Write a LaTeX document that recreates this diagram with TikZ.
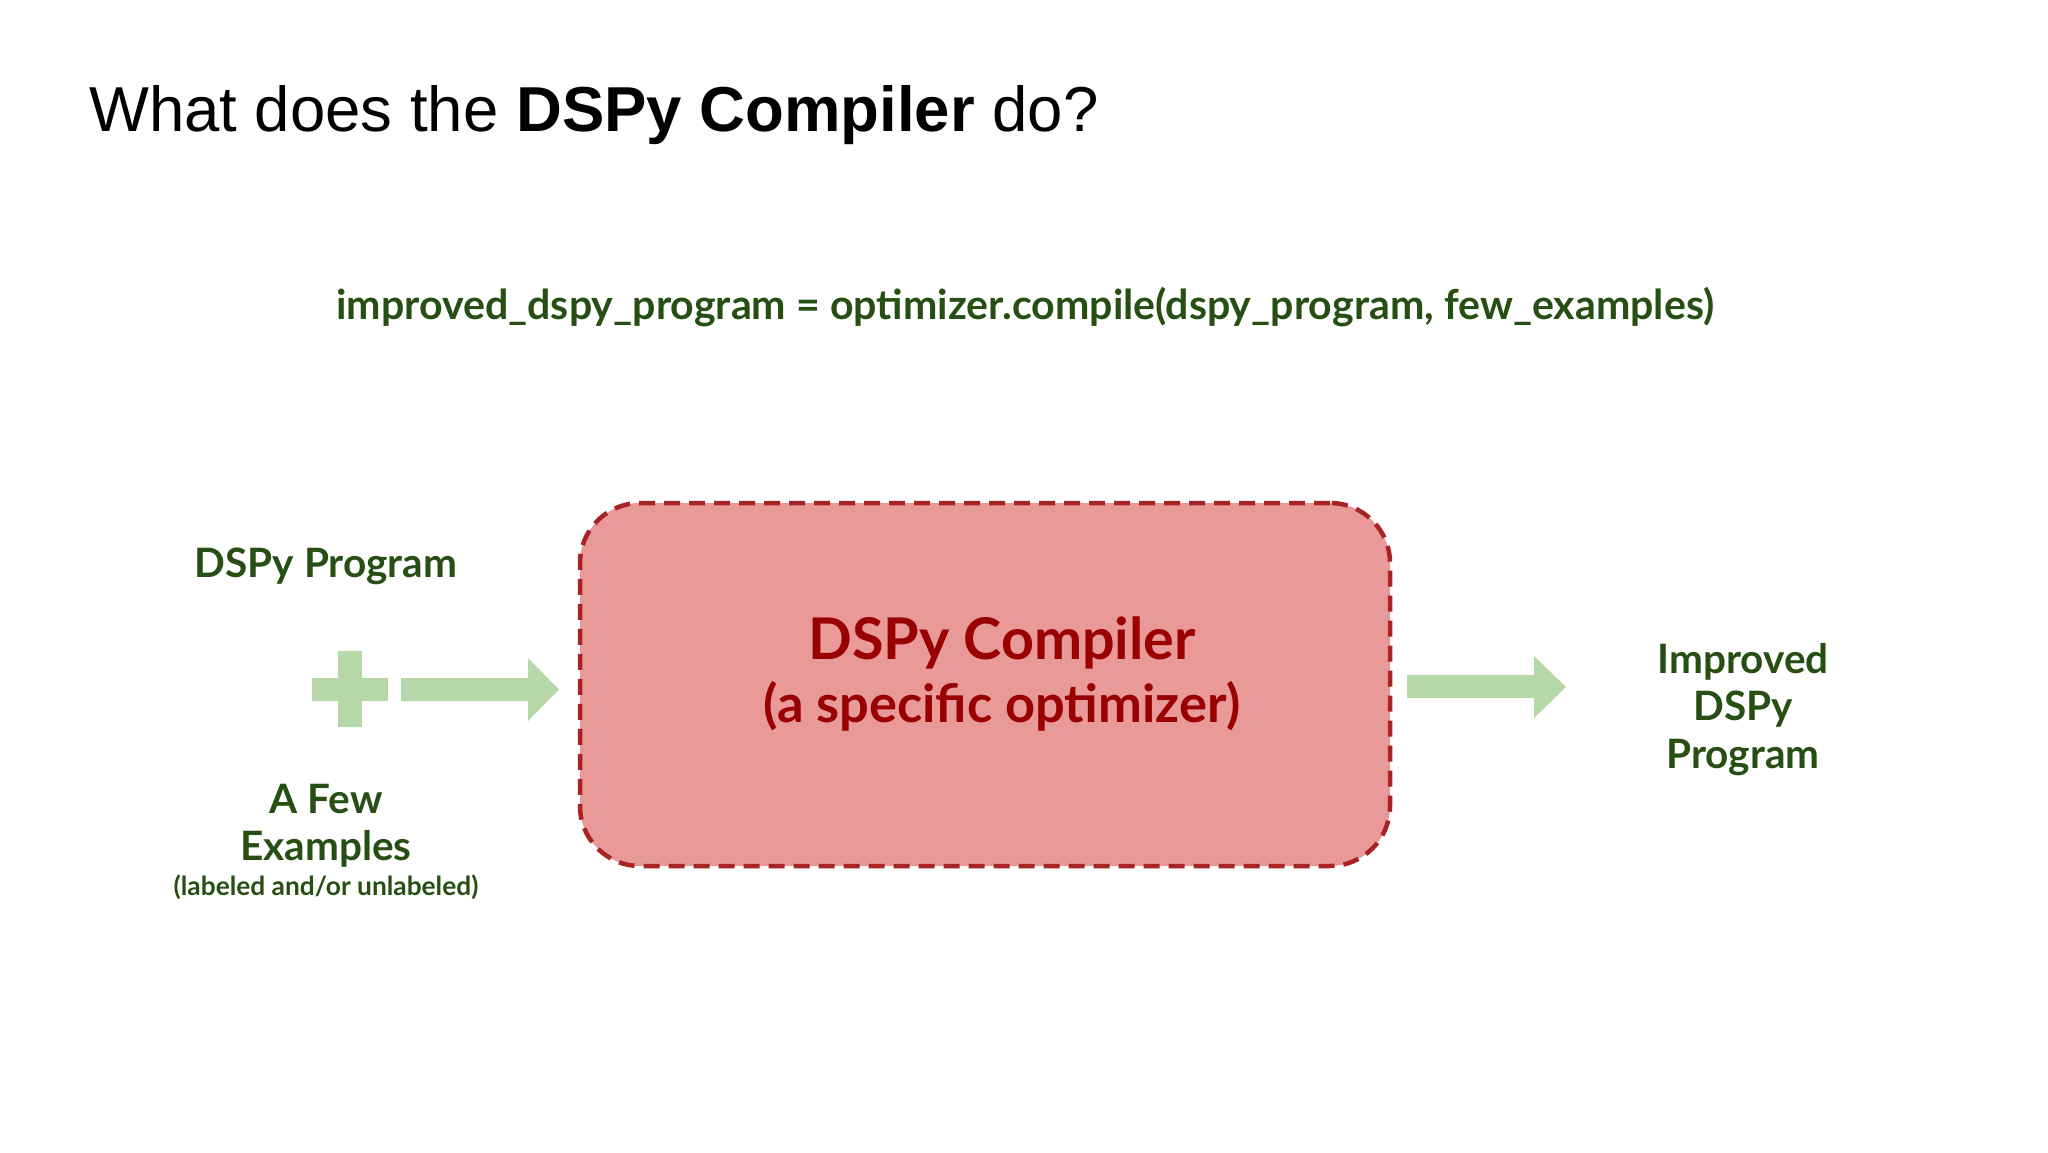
\documentclass[tikz,border=0pt]{standalone}
\usepackage{fontspec}
\setmainfont{Liberation Sans}
\newfontfamily\prox{Lato}
\definecolor{dkgreen}{HTML}{274E13}
\definecolor{ltgreen}{HTML}{B6D7A8}
\definecolor{boxfill}{HTML}{EA9999}
\definecolor{boxline}{HTML}{A82424}
\definecolor{dkred}{HTML}{990000}
\tikzset{
  lbl/.style={text=dkgreen, font=\prox\bfseries\fontsize{40.5}{47}\selectfont, align=center, anchor=base, inner sep=0},
  blockarrow/.style={fill=ltgreen, draw=none},
}
\begin{document}
\begin{tikzpicture}[x=1pt,y=-1pt]
\useasboundingbox[fill=white] (0,0) rectangle (2048,1152);
% title
\node[anchor=base west, inner sep=0, font=\fontsize{63.5}{75}\selectfont] (title) at (89,131) {What does the \textbf{DSPy Compiler} do?};
% code line
\node[anchor=base, inner sep=0, text=dkgreen, font=\prox\bfseries\fontsize{41.1}{48}\selectfont] (code) at (1025,319) {improved\_dspy\_program = optimizer.compile(dspy\_program, few\_examples)};
% compiler box
\node[draw=boxline, fill=boxfill, line width=4.5pt, dash pattern=on 16pt off 9pt, rounded corners=60pt, minimum width=810pt, minimum height=363pt] (box) at (985,684.5) {};
\node[anchor=base, inner sep=0, text=dkred, font=\prox\bfseries\fontsize{57.5}{70}\selectfont] (t1) at (1002,659) {DSPy Compiler};
\node[anchor=base, inner sep=0, text=dkred, font=\prox\bfseries\fontsize{52.4}{60}\selectfont] (t2) at (1002,722) {(a specific optimizer)};
% left labels
\node[lbl] (prog) at (326,577) {DSPy Program};
\node[lbl] (few) at (326,813) {A Few};
\node[lbl] (ex) at (326,860) {Examples};
\node[anchor=base, inner sep=0, text=dkgreen, font=\prox\bfseries\fontsize{26.3}{30}\selectfont] (lab) at (326,895) {(labeled and/or unlabeled)};
% plus
\fill[ltgreen] (312,678) rectangle (388,701);
\fill[ltgreen] (338,651) rectangle (362,727);
% left arrow
\fill[blockarrow] (401,678) -- (528,678) -- (528,658) -- (559,689.5) -- (528,721) -- (528,701) -- (401,701) -- cycle;
% right arrow
\fill[blockarrow] (1407,675) -- (1534,675) -- (1534,656) -- (1566,687) -- (1534,718) -- (1534,698) -- (1407,698) -- cycle;
% right labels
\node[lbl] (imp1) at (1743,673) {Improved};
\node[lbl] (imp2) at (1743,720) {DSPy};
\node[lbl] (imp3) at (1743,768) {Program};
\end{tikzpicture}
\end{document}
